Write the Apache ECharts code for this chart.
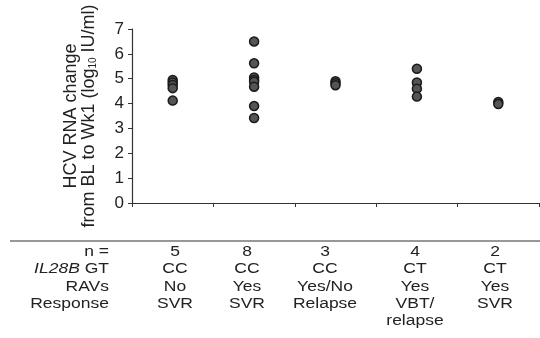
<!DOCTYPE html>
<html>
<head>
<meta charset="utf-8">
<script src="https://cdn.jsdelivr.net/npm/echarts@6/dist/echarts.min.js"></script>
<style>
  html, body { margin: 0; padding: 0; background: #fff; }
  #chart { width: 540px; height: 338px; }
</style>
</head>
<body>
<div id="chart"></div>
<script>
  const categories = ['CC No SVR', 'CC Yes SVR', 'CC Yes/No Relapse', 'CT Yes VBT/relapse', 'CT Yes SVR'];
  const ccNoSvr = [4.95, 4.85, 4.75, 4.62, 4.12];
  const ccYesSvr = [6.5, 5.62, 5.05, 4.95, 4.88, 4.68, 3.9, 3.42];
  const ccRelapse = [4.9, 4.82, 4.74];
  const ctVbt = [5.4, 4.85, 4.6, 4.28];
  const ctYesSvr = [4.06, 3.98];
  const yTicks = [0, 1, 2, 3, 4, 5, 6, 7];

  const rowLabels = ['n =', '{i|IL28B} GT', 'RAVs', 'Response'];
  const nValues = ['5', '8', '3', '4', '2'];
  const gtValues = ['CC', 'CC', 'CC', 'CT', 'CT'];
  const ravValues = ['No', 'Yes', 'Yes/No', 'Yes', 'Yes'];
  const responseValues = ['SVR', 'SVR', 'Relapse', 'VBT/\nrelapse', 'SVR'];

  const groups = [ccNoSvr, ccYesSvr, ccRelapse, ctVbt, ctYesSvr];
  const points = [];
  groups.forEach((vals, i) => vals.forEach(v => points.push([categories[i], v])));

  // table layout (text in the source is a bit squat, hence scaleY)
  const colX = [175, 247, 325, 415, 495];
  const labelX = 109;
  const rowY = 252;
  const rowH = 17.3;
  const font = '"Liberation Sans", Arial, sans-serif';
  const ink = '#222';

  function cell(text, x, y, align) {
    return {
      type: 'text', x: x, y: y, scaleY: 0.82,
      style: {
        text: text, align: align, verticalAlign: 'middle',
        font: '17.5px ' + font, fill: ink,
        rich: { i: { fontStyle: 'italic', fontSize: 17.5, fontFamily: font, fill: ink } }
      }
    };
  }

  const graphics = [{
    type: 'line',
    shape: { x1: 10, y1: 241, x2: 540, y2: 241 },
    style: { stroke: '#333', lineWidth: 1.2 }
  }];
  const rows = [nValues, gtValues, ravValues, responseValues];
  rowLabels.forEach((lab, r) => {
    graphics.push(cell(lab, labelX, rowY + r * rowH, 'right'));
    rows[r].forEach((t, c) => {
      t.split('\n').forEach((line, k) => {
        graphics.push(cell(line, colX[c], rowY + (r + k) * rowH, 'center'));
      });
    });
  });

  const chart = echarts.init(document.getElementById('chart'));
  chart.setOption({
    animation: false,
    grid: { left: 132, right: 1, top: 29, bottom: 135 },
    xAxis: {
      type: 'category',
      data: categories,
      boundaryGap: true,
      axisLine: { lineStyle: { color: '#333', width: 1.2 } },
      axisTick: { show: true, interval: 0, length: 4, lineStyle: { color: '#333' } },
      axisLabel: { show: false },
      splitLine: { show: false }
    },
    yAxis: {
      type: 'value',
      min: yTicks[0],
      max: yTicks[yTicks.length - 1],
      interval: 1,
      name: '{a|HCV RNA change}\n{a|from BL to Wk1 (log}{s|10}{a| IU/ml)}',
      nameLocation: 'middle',
      nameGap: 34,
      nameTextStyle: {
        color: ink,
        fontFamily: font,
        fontSize: 18,
        lineHeight: 18,
        rich: {
          a: { fontSize: 18, fontFamily: font, color: ink, lineHeight: 18 },
          s: { fontSize: 10, fontFamily: font, color: ink, lineHeight: 10, verticalAlign: 'bottom' }
        }
      },
      axisLine: { show: true, lineStyle: { color: '#333', width: 1.2 } },
      axisTick: { show: true, length: 4, lineStyle: { color: '#333' } },
      axisLabel: { color: ink, fontFamily: font, fontSize: 17, margin: 8 },
      splitLine: { show: false }
    },
    series: [{
      type: 'scatter',
      data: points,
      symbol: 'circle',
      symbolSize: 9,
      itemStyle: { color: '#555', borderColor: '#1a1a1a', borderWidth: 1.5, opacity: 1 }
    }],
    graphic: graphics
  });
</script>
</body>
</html>
